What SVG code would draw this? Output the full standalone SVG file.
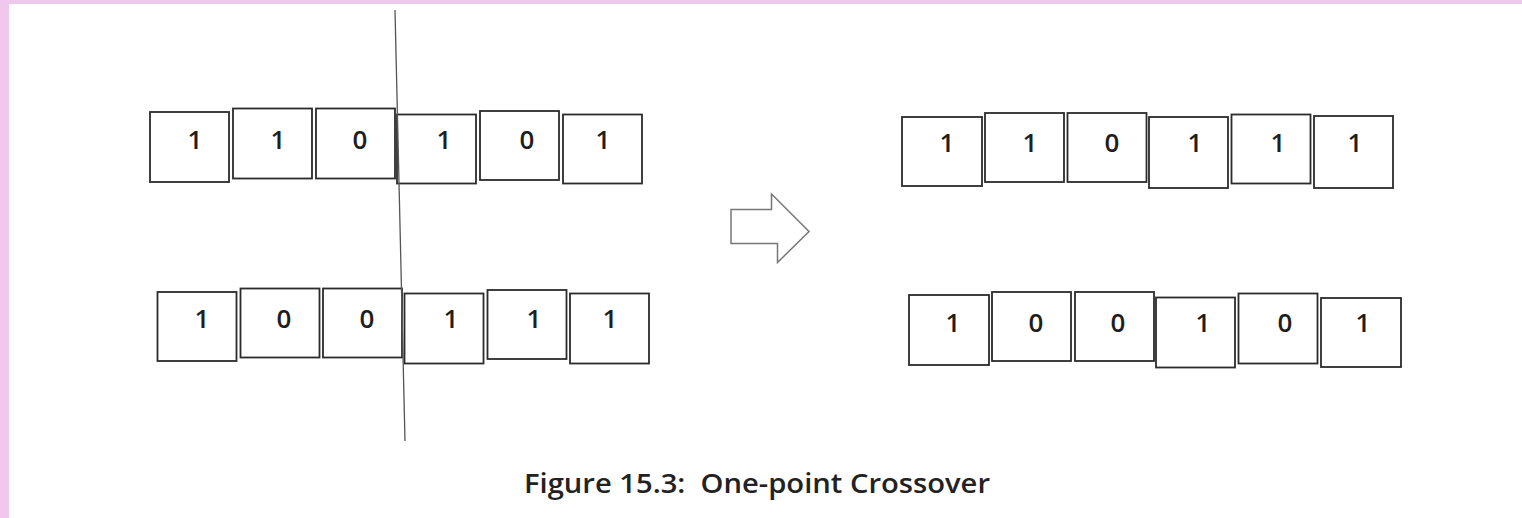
<svg xmlns="http://www.w3.org/2000/svg" width="1522" height="518" viewBox="0 0 1522 518">
<style>
.b{fill:#fff;stroke:#2b2b2b;stroke-width:1.8}
.d{font-family:"Open Sans","Liberation Sans",Arial,sans-serif;font-weight:600;font-size:26px;fill:#1e1e1e;text-anchor:middle}
.cap{font-family:"Open Sans","Liberation Sans",sans-serif;font-weight:600;font-size:27px;fill:#222;white-space:pre}
</style>
<rect x="0" y="0" width="1522" height="518" fill="#fff"/>
<rect x="0" y="0" width="1522" height="4" fill="#f0c8ee"/>
<rect x="0" y="0" width="9" height="518" fill="#f0c8ee"/>
<g id="parent1">
<rect class="b" x="150" y="112" width="79" height="70"/>
<rect class="b" x="233" y="108.5" width="79" height="70"/>
<rect class="b" x="316" y="108.5" width="79" height="70"/>
<rect class="b" x="397" y="114.5" width="79" height="69"/>
<rect class="b" x="480" y="111" width="79" height="69"/>
<rect class="b" x="563" y="114.5" width="79" height="69"/>
<text class="d" x="195" y="149">1</text>
<text class="d" x="278" y="149">1</text>
<text class="d" x="360" y="149">0</text>
<text class="d" x="444" y="149">1</text>
<text class="d" x="527" y="149">0</text>
<text class="d" x="603" y="149">1</text>
</g>
<g id="parent2">
<rect class="b" x="157.5" y="292" width="79" height="69"/>
<rect class="b" x="240.5" y="288.5" width="79" height="69"/>
<rect class="b" x="323" y="288.5" width="79" height="69"/>
<rect class="b" x="404.5" y="293.5" width="79" height="70"/>
<rect class="b" x="487.5" y="290" width="79" height="69"/>
<rect class="b" x="570" y="293.5" width="79" height="70"/>
<text class="d" x="202" y="328">1</text>
<text class="d" x="284" y="328">0</text>
<text class="d" x="367" y="328">0</text>
<text class="d" x="451" y="328">1</text>
<text class="d" x="534" y="328">1</text>
<text class="d" x="610" y="328">1</text>
</g>
<g id="child1">
<rect class="b" x="902" y="117" width="80" height="69"/>
<rect class="b" x="985" y="113" width="79" height="69"/>
<rect class="b" x="1067.5" y="113" width="79" height="69"/>
<rect class="b" x="1149" y="117" width="79" height="71"/>
<rect class="b" x="1231.5" y="114.5" width="79" height="69"/>
<rect class="b" x="1314" y="116" width="79" height="72"/>
<text class="d" x="947" y="152">1</text>
<text class="d" x="1030" y="152">1</text>
<text class="d" x="1112" y="152">0</text>
<text class="d" x="1195" y="152">1</text>
<text class="d" x="1278" y="152">1</text>
<text class="d" x="1355" y="152">1</text>
</g>
<g id="child2">
<rect class="b" x="909" y="295" width="80" height="70"/>
<rect class="b" x="992" y="292" width="79" height="69"/>
<rect class="b" x="1075" y="292" width="79" height="69"/>
<rect class="b" x="1156" y="297.5" width="79" height="70"/>
<rect class="b" x="1238.5" y="293.5" width="79" height="70"/>
<rect class="b" x="1321" y="298" width="80" height="69"/>
<text class="d" x="953" y="332">1</text>
<text class="d" x="1036" y="332">0</text>
<text class="d" x="1118" y="332">0</text>
<text class="d" x="1203" y="332">1</text>
<text class="d" x="1285" y="332">0</text>
<text class="d" x="1363" y="332">1</text>
</g>
<g id="connectors">
<line x1="395" y1="10" x2="405" y2="441" stroke="#555" stroke-width="1.3"/>
<path d="M731,209.5 L771.5,209.5 L771.5,194 L809,231.5 L777.5,262.5 L777.5,243.5 L731,243.5 Z" fill="#fff" stroke="#777" stroke-width="1.5"/>
</g>
<text class="cap" x="524" y="493" textLength="466" lengthAdjust="spacingAndGlyphs" xml:space="preserve">Figure 15.3:  One-point Crossover</text>
</svg>
